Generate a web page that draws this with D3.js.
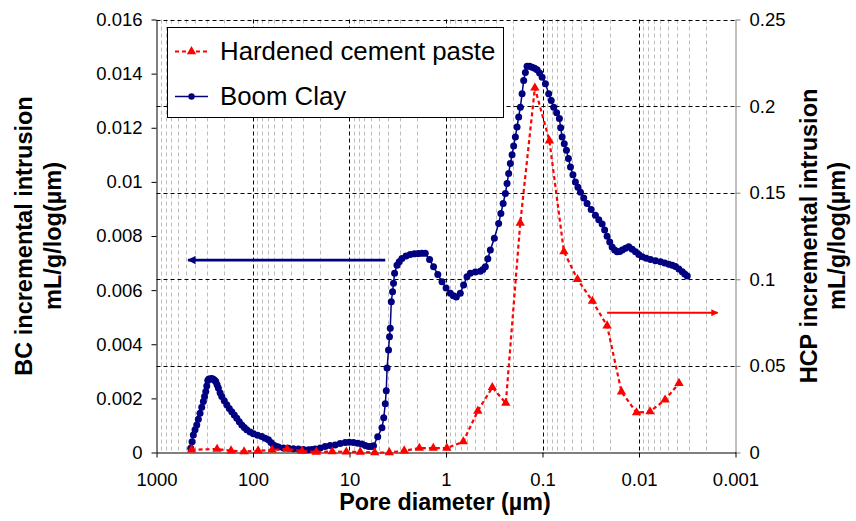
<!DOCTYPE html>
<html><head><meta charset="utf-8">
<script src="https://cdn.jsdelivr.net/npm/d3@7"></script>
<style>
body{margin:0;background:#fff;}
svg{display:block;font-family:"Liberation Sans",Arial,Helvetica,sans-serif;}
</style></head><body>
<svg id="chart" width="856" height="521"></svg>
<script>
// ---- data ----
const seriesNames = ["Hardened cement paste", "Boom Clay"];

const bcDiameter = [441.7,428.2,415.2,398.7,382.8,368.5,353.9,339.8,326.9,317.8,308.7,301.4,294.3,286.8,278.6,267.5,257.5,250.2,243.1,235.7,228.5,219.4,210.7,198.5,187.0,176.2,166.0,156.3,147.2,138.7,130.7,123.1,116.0,107.2,99.1,89.6,81.1,74.9,69.2,65.2,61.4,57.9,54.5,48.4,42.9,38.1,33.8,30.0,26.6,24.5,22.7,20.1,17.9,15.9,14.1,12.5,11.08,10.07,9.09,8.22,7.44,6.87,6.35,5.95,5.64,
  5.10,4.61,4.42,4.26,4.16,4.08,3.94,3.85,3.78,3.69,3.58,3.50,3.41,3.22,3.05,2.86,2.59,2.35,2.13,1.94,1.78,1.64,1.48,1.345,1.216,1.10,0.998,0.902,0.840,0.782,0.711,0.657,0.606,0.560,0.497,0.441,0.415,0.391,0.3685,0.347,0.3155,0.2848,0.270,0.2557,0.2426,0.2330,0.2242,0.2153,0.2067,0.1990,0.191,0.1835,0.1765,0.1696,0.1627,0.1567,0.1505,0.1445,0.1361,0.1282,0.1208,0.1138,0.1072,0.1009,0.0933,0.0862,0.0812,0.0765,0.0714,0.0668,0.0648,0.0626,0.0595,0.0565,0.0539,0.0513,0.0484,0.0456,0.0429,0.0404,0.0374,0.0345,0.0313,0.0283,0.0261,0.0241,0.0227,0.0214,0.0201,0.0190,0.01786,0.01683,0.01585,0.01494,0.0138,0.01276,0.01176,0.01087,0.01005,0.00926,0.0084,0.0076,0.00674,0.00598,0.00541,0.00491,0.00452,0.00418,0.00386,0.00356,0.00336,0.00316];
const bcValue = [0.00016,0.0004,0.00065,0.000845,0.00102,0.00123,0.00145,0.00167,0.00188,0.00207,0.00225,0.00246,0.00266,0.00272,0.00272,0.00273,0.00271,0.00267,0.00262,0.0025,0.00238,0.00221,0.00207,0.00191,0.00176,0.00163,0.00151,0.00139,0.00127,0.00114,0.00102,0.00092,0.00084,0.00076,0.00069,0.00064,0.00059,0.00053,0.00047,0.00037,0.00028,0.00023,0.0002,0.00017,0.00016,0.000137,0.000125,0.000107,0.0001,0.000107,0.000125,0.000166,0.00022,0.000255,0.00028,0.00033,0.00037,0.00038,0.00037,0.000343,0.00031,0.000255,0.00022,0.000218,0.00025,
  0.00058,0.00091,0.00128,0.0018,0.00228,0.00312,0.00379,0.00428,0.00459,0.00557,0.00594,0.00625,0.00662,0.00692,0.00705,0.00717,0.00726,0.00732,0.00734,0.00735,0.00736,0.00736,0.00713,0.00686,0.00658,0.00631,0.00608,0.00588,0.00579,0.00575,0.00588,0.00619,0.00649,0.00662,0.00667,0.0067,0.00676,0.00686,0.00716,0.00748,0.00792,0.00846,0.00883,0.0092,0.00957,0.00994,0.01031,0.01068,0.011,0.01133,0.01166,0.01203,0.0124,0.01276,0.01326,0.01375,0.01404,0.01427,0.01427,0.01424,0.0142,0.01414,0.01402,0.01387,0.01363,0.01326,0.01301,0.01276,0.01255,0.01234,0.012,0.01166,0.01141,0.01117,0.01086,0.01055,0.01026,0.0100,0.0098,0.00962,0.0094,0.0092,0.00898,0.00877,0.0086,0.00844,0.00822,0.00799,0.00778,0.00759,0.00748,0.00742,0.00743,0.00748,0.00755,0.0076,0.00751,0.00742,0.00732,0.00723,0.00718,0.00713,0.00709,0.00705,0.007,0.00696,0.00692,0.00687,0.00678,0.00668,0.0066,0.00652];

const hcpDiameter = [433,235.7,168.7,123.7,88.5,63.4,44.3,31.0,22.1,15.1,10.8,7.74,5.48,3.87,2.71,1.89,1.355,0.98,0.662,0.468,0.331,0.240,0.170,0.120,0.0848,0.060,0.0434,0.0304,0.0214,0.0152,0.0106,0.00769,0.00537,0.00385];
const hcpValue = [0.0016,0.002,0.001,0.0005,0.001,0.0015,0.002,0.0008,0.0003,0.0005,0.0004,0.0003,0.0,0.0,0.001,0.0025,0.0025,0.0025,0.0063,0.024,0.0376,0.0285,0.1325,0.2105,0.180,0.116,0.100,0.0874,0.0732,0.0351,0.023,0.0236,0.0304,0.040];

const xTickValues = [1000,100,10,1,0.1,0.01,0.001];
const xTickLabels = ["1000","100","10","1","0.1","0.01","0.001"];
const leftTickValues = [0,0.002,0.004,0.006,0.008,0.01,0.012,0.014,0.016];
const leftTickLabels = ["0","0.002","0.004","0.006","0.008","0.01","0.012","0.014","0.016"];
const rightTickValues = [0,0.05,0.1,0.15,0.2,0.25];
const rightTickLabels = ["0","0.05","0.1","0.15","0.2","0.25"];

// annotation arrows (data coordinates)
const bcArrow = {from: 4.26, to: 471, value: 0.00711};      // left axis
const hcpArrow = {from: 0.0214, to: 0.00153, value: 0.0807}; // right axis

// ---- drawing ----
const svg = d3.select("#chart");
const L = 156.5, R = 735.5, T = 19.5, B = 452.5;

const x = d3.scaleLog().domain([1000, 0.001]).range([L, R]);
const yL = d3.scaleLinear().domain([0, 0.016]).range([B, T]);
const yR = d3.scaleLinear().domain([0, 0.25]).range([B, T]);

const grid = svg.append("g");
const allTicks = x.ticks();
const minor = allTicks.filter(v => Math.abs(Math.log10(v) - Math.round(Math.log10(v))) > 1e-6);
grid.selectAll("line.minor").data(minor).enter().append("line")
  .attr("x1", d => Math.round(x(d)) + 0.5).attr("x2", d => Math.round(x(d)) + 0.5)
  .attr("y1", T).attr("y2", B)
  .attr("stroke", "#bcbcbc").attr("stroke-width", 1).attr("stroke-dasharray", "4,3");
grid.selectAll("line.major").data(xTickValues.slice(1, -1)).enter().append("line")
  .attr("x1", d => Math.round(x(d)) + 0.5).attr("x2", d => Math.round(x(d)) + 0.5)
  .attr("y1", T).attr("y2", B)
  .attr("stroke", "#000").attr("stroke-width", 1).attr("stroke-dasharray", "4,3");
grid.selectAll("line.h").data(rightTickValues.slice(1)).enter().append("line")
  .attr("x1", L).attr("x2", R)
  .attr("y1", d => Math.round(yR(d)) + 0.5).attr("y2", d => Math.round(yR(d)) + 0.5)
  .attr("stroke", "#000").attr("stroke-width", 1).attr("stroke-dasharray", "4,3");

const tickFont = "18.5px";
const gL = svg.append("g").attr("transform", `translate(${L},0)`)
  .call(d3.axisLeft(yL).tickValues(leftTickValues).tickFormat((d, i) => leftTickLabels[i]).tickSize(5).tickPadding(9).tickSizeOuter(0));
gL.selectAll("text").attr("font-size", tickFont).attr("fill", "#000").attr("font-family", "Liberation Sans, Arial, sans-serif");
gL.selectAll("line,path").attr("stroke", "#000");

const gR = svg.append("g").attr("transform", `translate(${R},0)`)
  .call(d3.axisRight(yR).tickValues(rightTickValues).tickFormat((d, i) => rightTickLabels[i]).tickSize(5).tickPadding(9).tickSizeOuter(0));
gR.selectAll("text").attr("font-size", tickFont).attr("fill", "#000").attr("font-family", "Liberation Sans, Arial, sans-serif");
gR.selectAll("line,path").attr("stroke", "#808080");

const gB = svg.append("g").attr("transform", `translate(0,${B})`)
  .call(d3.axisBottom(x).tickValues(xTickValues).tickFormat((d, i) => xTickLabels[i]).tickSize(5).tickPadding(15).tickSizeOuter(0));
gB.selectAll("text").attr("font-size", tickFont).attr("fill", "#000").attr("font-family", "Liberation Sans, Arial, sans-serif");
gB.selectAll("line,path").attr("stroke", "#000");

// Boom Clay series
const bcData = bcDiameter.map((d, i) => [d, bcValue[i]]);
svg.append("path").datum(bcData)
  .attr("fill", "none").attr("stroke", "#000080").attr("stroke-width", 1.5)
  .attr("d", d3.line().x(d => x(d[0])).y(d => yL(d[1])));
svg.append("g").selectAll("circle").data(bcData).enter().append("circle")
  .attr("cx", d => x(d[0])).attr("cy", d => yL(d[1])).attr("r", 3.5).attr("fill", "#000080");

// HCP series
const hcpData = hcpDiameter.map((d, i) => [d, hcpValue[i]]);
svg.append("path").datum(hcpData)
  .attr("fill", "none").attr("stroke", "#ff0000").attr("stroke-width", 2.2).attr("stroke-dasharray", "4,3")
  .attr("d", d3.line().x(d => x(d[0])).y(d => yR(d[1])));
const tri = d3.symbol().type(d3.symbolTriangle).size(38);
svg.append("g").selectAll("path").data(hcpData).enter().append("path")
  .attr("transform", d => `translate(${x(d[0])},${yR(d[1])})`).attr("d", tri).attr("fill", "#ff0000");

// arrows
const defs = svg.append("defs");
function marker(id, color) {
  defs.append("marker").attr("id", id).attr("viewBox", "0 0 10 10").attr("refX", 9).attr("refY", 5)
    .attr("markerWidth", 4).attr("markerHeight", 3.2).attr("markerUnits", "strokeWidth").attr("orient", "auto")
    .append("path").attr("d", "M0,0 L10,5 L0,10 Z").attr("fill", color);
}
marker("arrB", "#000080");
marker("arrR", "#ff0000");
svg.append("line").attr("x1", x(bcArrow.from)).attr("x2", x(bcArrow.to))
  .attr("y1", yL(bcArrow.value)).attr("y2", yL(bcArrow.value))
  .attr("stroke", "#000080").attr("stroke-width", 2.6).attr("marker-end", "url(#arrB)");
svg.append("line").attr("x1", x(hcpArrow.from)).attr("x2", x(hcpArrow.to))
  .attr("y1", yR(hcpArrow.value)).attr("y2", yR(hcpArrow.value))
  .attr("stroke", "#ff0000").attr("stroke-width", 2.2).attr("marker-end", "url(#arrR)");

// axis titles
svg.append("text").attr("x", 445).attr("y", 509.5).attr("text-anchor", "middle")
  .attr("font-size", "23.3px").attr("font-weight", "bold").text("Pore diameter (\u00b5m)");
const lt = svg.append("g").attr("transform", "translate(0,236)");
lt.append("text").attr("transform", "translate(31.5,0) rotate(-90)").attr("text-anchor", "middle")
  .attr("font-size", "23.5px").attr("font-weight", "bold").text("BC incremental intrusion");
lt.append("text").attr("transform", "translate(60.5,0) rotate(-90)").attr("text-anchor", "middle")
  .attr("font-size", "23.5px").attr("font-weight", "bold").text("mL/g/log(\u00b5m)");
const rt = svg.append("g").attr("transform", "translate(0,236)");
rt.append("text").attr("transform", "translate(816.5,0) rotate(-90)").attr("text-anchor", "middle")
  .attr("font-size", "23.5px").attr("font-weight", "bold").text("HCP incremental intrusion");
rt.append("text").attr("transform", "translate(845,0) rotate(-90)").attr("text-anchor", "middle")
  .attr("font-size", "23.5px").attr("font-weight", "bold").text("mL/g/log(\u00b5m)");

// legend
const lg = svg.append("g");
lg.append("rect").attr("x", 167.5).attr("y", 27.5).attr("width", 336).attr("height", 90)
  .attr("fill", "#fff").attr("stroke", "#000").attr("stroke-width", 1);
const rows = [
  {name: seriesNames[0], y: 51.5, color: "#ff0000", dash: "4,3", w: 2.2, sym: "tri"},
  {name: seriesNames[1], y: 96.5, color: "#000080", dash: null, w: 1.5, sym: "circle"}
];
rows.forEach(r => {
  lg.append("line").attr("x1", 175).attr("x2", 208).attr("y1", r.y).attr("y2", r.y)
    .attr("stroke", r.color).attr("stroke-width", r.w).attr("stroke-dasharray", r.dash);
  if (r.sym === "tri") lg.append("path").attr("transform", `translate(191.5,${r.y})`).attr("d", tri).attr("fill", r.color);
  else lg.append("circle").attr("cx", 191.5).attr("cy", r.y).attr("r", 3.2).attr("fill", r.color);
  lg.append("text").attr("x", 220).attr("y", r.y + 8.7).attr("font-size", "25.8px").attr("fill", "#000").text(r.name);
});
</script>
</body></html>
